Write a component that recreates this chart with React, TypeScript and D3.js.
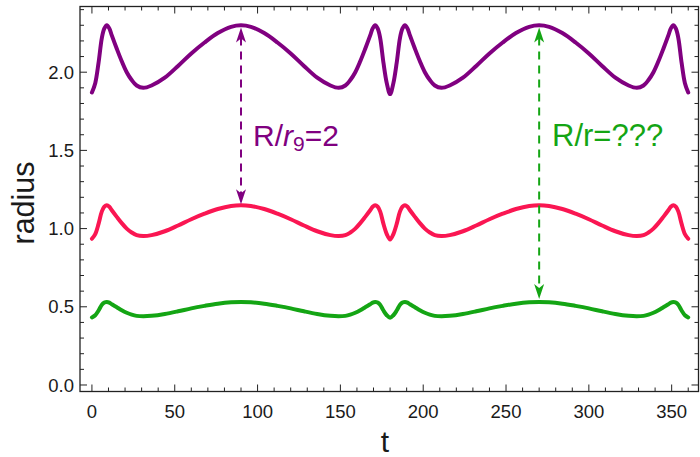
import React, { useEffect, useRef } from "react";
import * as d3 from "d3";

const width = 700;
const height = 457;

// t samples (denser around the narrow peaks)
const tValues = [
  0, 2, 4, 6, 7.5, 9, 10.5, 12, 15, 18, 21, 24, 27, 31, 36, 44, 52, 60, 68, 76, 84, 90,
  96, 104, 112, 120, 128, 136, 144, 149, 153, 156, 159, 162, 165, 168, 169.5, 171, 172.5,
  174, 176, 178, 180, 182, 184, 186, 187.5, 189, 190.5, 192, 195, 198, 201, 204, 207, 211,
  216, 224, 232, 240, 248, 256, 264, 270, 276, 284, 292, 300, 308, 316, 324, 329, 333, 336,
  339, 342, 345, 348, 349.5, 351, 352.5, 354, 356, 358, 360,
];

const purpleRadius = [
  1.87, 1.93, 2.06, 2.22, 2.28, 2.3, 2.28, 2.235, 2.15, 2.07, 2.0, 1.95, 1.915, 1.9, 1.915,
  1.965, 2.04, 2.12, 2.19, 2.25, 2.29, 2.3, 2.29, 2.25, 2.19, 2.12, 2.04, 1.965, 1.915, 1.9,
  1.915, 1.95, 2.0, 2.07, 2.15, 2.235, 2.28, 2.3, 2.28, 2.22, 2.06, 1.93, 1.86,
  1.93, 2.06, 2.22, 2.28, 2.3, 2.28, 2.235, 2.15, 2.07, 2.0, 1.95, 1.915, 1.9, 1.915, 1.965,
  2.04, 2.12, 2.19, 2.25, 2.29, 2.3, 2.29, 2.25, 2.19, 2.12, 2.04, 1.965, 1.915, 1.9, 1.915,
  1.95, 2.0, 2.07, 2.15, 2.235, 2.28, 2.3, 2.28, 2.22, 2.06, 1.93, 1.87,
];

const redRadius = [
  0.935, 0.965, 1.03, 1.11, 1.14, 1.15, 1.14, 1.117, 1.075, 1.035, 1.0, 0.975, 0.958, 0.952,
  0.958, 0.983, 1.02, 1.06, 1.095, 1.125, 1.145, 1.15, 1.145, 1.125, 1.095, 1.06, 1.02, 0.983,
  0.958, 0.952, 0.958, 0.975, 1.0, 1.035, 1.075, 1.117, 1.14, 1.15, 1.14, 1.11, 1.03, 0.965, 0.93,
  0.965, 1.03, 1.11, 1.14, 1.15, 1.14, 1.117, 1.075, 1.035, 1.0, 0.975, 0.958, 0.952, 0.958,
  0.983, 1.02, 1.06, 1.095, 1.125, 1.145, 1.15, 1.145, 1.125, 1.095, 1.06, 1.02, 0.983, 0.958,
  0.952, 0.958, 0.975, 1.0, 1.035, 1.075, 1.117, 1.14, 1.15, 1.14, 1.11, 1.03, 0.965, 0.935,
];

const greenRadius = [
  0.432, 0.446, 0.476, 0.513, 0.527, 0.531, 0.527, 0.516, 0.497, 0.478, 0.462, 0.45, 0.442,
  0.439, 0.442, 0.454, 0.471, 0.49, 0.506, 0.52, 0.529, 0.531, 0.529, 0.52, 0.506, 0.49, 0.471,
  0.454, 0.442, 0.439, 0.442, 0.45, 0.462, 0.478, 0.497, 0.516, 0.527, 0.531, 0.527, 0.513,
  0.476, 0.446, 0.43,
  0.446, 0.476, 0.513, 0.527, 0.531, 0.527, 0.516, 0.497, 0.478, 0.462, 0.45, 0.442, 0.439,
  0.442, 0.454, 0.471, 0.49, 0.506, 0.52, 0.529, 0.531, 0.529, 0.52, 0.506, 0.49, 0.471, 0.454,
  0.442, 0.439, 0.442, 0.45, 0.462, 0.478, 0.497, 0.516, 0.527, 0.531, 0.527, 0.513, 0.476,
  0.446, 0.432,
];

const xTicks = [0, 50, 100, 150, 200, 250, 300, 350];
const yTicks = [0, 0.5, 1.0, 1.5, 2.0];

// arrows: [t, from, to]
const purpleArrow = [90, 2.285, 1.155];
const greenArrow = [270, 2.285, 0.55];

const PURPLE = "#800080";
const RED = "#fa1652";
const GREEN = "#14a514";

const RadiusChart = () => {
  const svgRef = useRef<SVGSVGElement>(null);

  useEffect(() => {
    const svg = d3.select(svgRef.current);
    svg.selectAll("*").remove();

    const left = 80, right = 698.5, top = 6.5, bottom = 391.5;
    const x = d3.scaleLinear().domain([-7.2, 366.2]).range([left, right]);
    const y = d3.scaleLinear().domain([-0.0416, 2.42]).range([bottom, top]);

    const series = [
      { values: purpleRadius, color: PURPLE },
      { values: redRadius, color: RED },
      { values: greenRadius, color: GREEN },
    ];

    const line = d3
      .line<number>()
      .x((_, i) => x(tValues[i]))
      .y((d) => y(d))
      .curve(d3.curveCatmullRom.alpha(0.5));

    series.forEach((s) => {
      svg
        .append("path")
        .attr("d", line(s.values))
        .attr("fill", "none")
        .attr("stroke", s.color)
        .attr("stroke-width", 4)
        .attr("stroke-linecap", "round")
        .attr("stroke-linejoin", "round");
    });

    // dashed double arrows
    const drawHead = (cx: number, tip: number, dir: number, color: string) => {
      svg
        .append("path")
        .attr(
          "d",
          `M${cx},${tip} L${cx - 5},${tip - dir * 15} L${cx},${tip - dir * 11} L${cx + 5},${tip - dir * 15} Z`
        )
        .attr("fill", color);
    };
    [
      { a: purpleArrow, color: PURPLE },
      { a: greenArrow, color: GREEN },
    ].forEach(({ a, color }) => {
      const cx = x(a[0]);
      const y1 = y(a[1]);
      const y2 = y(a[2]);
      svg
        .append("line")
        .attr("x1", cx)
        .attr("x2", cx)
        .attr("y1", y1 + 10)
        .attr("y2", y2 - 10)
        .attr("stroke", color)
        .attr("stroke-width", 2)
        .attr("stroke-dasharray", "8,6");
      drawHead(cx, y1, -1, color);
      drawHead(cx, y2, 1, color);
    });

    // annotations
    const t1 = svg
      .append("text")
      .attr("x", 253)
      .attr("y", 146)
      .attr("fill", PURPLE)
      .attr("font-family", "Liberation Sans, Arial, sans-serif")
      .attr("font-size", 30);
    t1.append("tspan").text("R/");
    t1.append("tspan").attr("font-style", "italic").text("r");
    t1.append("tspan").attr("font-size", 21).attr("dy", 5).text("9");
    t1.append("tspan").attr("dy", -5).text("=2");

    svg
      .append("text")
      .attr("x", 552)
      .attr("y", 146)
      .attr("fill", GREEN)
      .attr("font-family", "Liberation Sans, Arial, sans-serif")
      .attr("font-size", 31)
      .text("R/r=???");

    // frame and ticks
    const frame = svg.append("g").attr("stroke", "#222").attr("fill", "none");
    frame
      .append("rect")
      .attr("x", left)
      .attr("y", top)
      .attr("width", right - left)
      .attr("height", bottom - top)
      .attr("stroke-width", 1.3);

    const xMinor = d3.range(0, 361, 10);
    xMinor.forEach((v) => {
      const len = v % 50 === 0 ? 7 : 4;
      const px = x(v);
      frame.append("line").attr("x1", px).attr("x2", px).attr("y1", bottom).attr("y2", bottom - len).attr("stroke-width", 1);
      frame.append("line").attr("x1", px).attr("x2", px).attr("y1", top).attr("y2", top + len).attr("stroke-width", 1);
    });
    const yMinor = d3.range(0, 25).map((i) => i / 10);
    yMinor.forEach((v, i) => {
      const len = i % 5 === 0 ? 7 : 4;
      const py = y(v);
      frame.append("line").attr("x1", left).attr("x2", left + len).attr("y1", py).attr("y2", py).attr("stroke-width", 1);
      frame.append("line").attr("x1", right).attr("x2", right - len).attr("y1", py).attr("y2", py).attr("stroke-width", 1);
    });

    const labels = svg
      .append("g")
      .attr("font-family", "Liberation Sans, Arial, sans-serif")
      .attr("font-size", 18.5)
      .attr("fill", "#1a1a1a");
    xTicks.forEach((v) => {
      labels.append("text").attr("x", x(v)).attr("y", 418).attr("text-anchor", "middle").text(v);
    });
    yTicks.forEach((v) => {
      labels
        .append("text")
        .attr("x", 74)
        .attr("y", y(v) + 6.6)
        .attr("text-anchor", "end")
        .text(d3.format(".1f")(v));
    });

    svg
      .append("text")
      .attr("x", 385)
      .attr("y", 452)
      .attr("text-anchor", "middle")
      .attr("font-family", "Liberation Sans, Arial, sans-serif")
      .attr("font-size", 30)
      .attr("fill", "#1a1a1a")
      .text("t");
    svg
      .append("text")
      .attr("transform", "translate(34,203) rotate(-90)")
      .attr("text-anchor", "middle")
      .attr("font-family", "Liberation Sans, Arial, sans-serif")
      .attr("font-size", 30.5)
      .attr("fill", "#1a1a1a")
      .text("radius");
  }, []);

  return <svg ref={svgRef} width={width} height={height} style={{ display: "block" }}></svg>;
};

const App = () => {
  return (
    <div style={{ position: "absolute", left: 0, top: 0, background: "#fff" }}>
      <RadiusChart />
    </div>
  );
};

export default App;
